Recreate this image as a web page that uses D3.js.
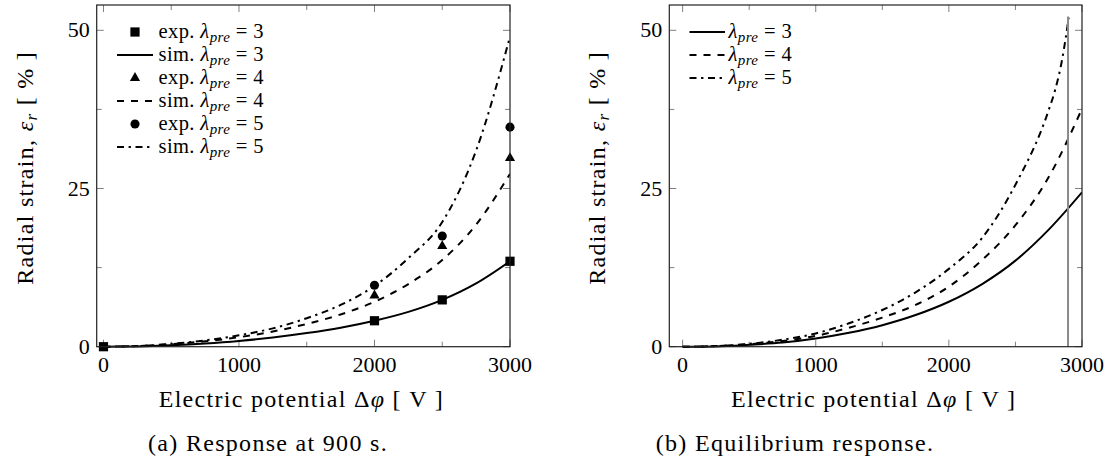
<!DOCTYPE html>
<html>
<head>
<meta charset="utf-8">
<script src="https://cdn.jsdelivr.net/npm/d3@7"></script>
</head>
<body style="margin:0">
<svg id="fig" width="1107" height="462"></svg>
<script>
// ---------------- data ----------------
const xMajorTicks = [0, 1000, 2000, 3000];
const xMinorTicks = [500, 1500, 2500];
const yMajorTicks = [0, 25, 50];
const yMinorTicks = [12.5, 37.5];

// (a) Response at 900 s — simulation curves
const phi900 = [0, 250, 500, 750, 1000, 1250, 1500, 1750, 2000, 2250, 2500, 2750, 3000];
const sim3_900 = [0, 0.05, 0.22, 0.5, 0.9, 1.45, 2.15, 3.0, 4.1, 5.5, 7.4, 10.0, 13.5];
const sim4_900 = [0, 0.1, 0.4, 0.85, 1.5, 2.4, 3.6, 5.1, 7.1, 9.9, 13.7, 19.3, 27.3];
const sim5_900 = [0, 0.1, 0.45, 1.0, 1.8, 2.9, 4.5, 6.6, 9.6, 14.0, 19.7, 31.0, 49.0];

// (a) experiments
const exp3Phi = [0, 2000, 2500, 3000];
const exp3Val = [0, 4.1, 7.4, 13.5];
const exp4Phi = [2000, 2500, 3000];
const exp4Val = [8.1, 15.9, 29.8];
const exp5Phi = [2000, 2500, 3000];
const exp5Val = [9.7, 17.5, 34.7];

// (b) Equilibrium response
const phiEq = [0, 250, 500, 750, 1000, 1250, 1500, 1750, 2000, 2250, 2500, 2750, 3000];
const eq3 = [0, 0.05, 0.3, 0.65, 1.3, 2.2, 3.4, 5.0, 7.1, 9.9, 13.6, 18.5, 24.4];
const eq4 = [0, 0.1, 0.4, 0.9, 1.7, 3.0, 4.6, 6.6, 9.5, 13.7, 19.2, 26.8, 37.6];
const phiEq5 = [0, 250, 500, 750, 1000, 1250, 1500, 1750, 2000, 2250, 2500, 2750, 2800, 2850, 2900];
const eq5 = [0, 0.1, 0.45, 1.1, 2.1, 3.7, 5.8, 8.6, 12.3, 17.2, 25.6, 37.4, 40.7, 45.3, 52.0];
const limitPhi = [2895];

const legendA = ["exp.", "sim.", "exp.", "sim.", "exp.", "sim."];
const legendLambda = [3, 3, 4, 4, 5, 5];
const legendB = [3, 4, 5];

const xLabel = "Electric potential ";
const yLabel = "Radial strain, ";
const captions = ["(a) Response at 900 s.", "(b) Equilibrium response."];

// ---------------- drawing ----------------
const FONT = "'Liberation Serif', Tinos, 'Times New Roman', FreeSerif, serif";
const svg = d3.select("#fig").style("display", "block");
const DASHED = "7,7";
const DASHDOT = "7,4.6,2.3,4.6";
const LABEL_FS = 24, LABEL_LS = 1.3;

function txt(sel) {
  return sel.append("text").attr("font-family", FONT)
    .style("font-family", FONT, "important").attr("fill", "#000");
}

function makePanel(cfg) {
  const g = svg.append("g");
  const x = d3.scaleLinear().domain(cfg.xDomain).range([cfg.left, cfg.right]);
  const y = d3.scaleLinear().domain([0, 54]).range([cfg.bottom, cfg.top]);
  const clipId = "clip" + cfg.id;
  svg.append("clipPath").attr("id", clipId).append("rect")
    .attr("x", cfg.left).attr("y", cfg.top - 4)
    .attr("width", cfg.right - cfg.left).attr("height", cfg.bottom - cfg.top + 8);

  // ticks on all four sides (inward)
  const tickCol = "#808080";
  const majL = 7, minL = 5;
  xMajorTicks.concat(xMinorTicks).forEach(t => {
    const L = xMajorTicks.includes(t) ? majL : minL;
    g.append("line").attr("x1", x(t)).attr("x2", x(t)).attr("y1", cfg.bottom).attr("y2", cfg.bottom - L)
      .attr("stroke", tickCol).attr("stroke-width", 1);
    g.append("line").attr("x1", x(t)).attr("x2", x(t)).attr("y1", cfg.top).attr("y2", cfg.top + L)
      .attr("stroke", tickCol).attr("stroke-width", 1);
  });
  yMajorTicks.concat(yMinorTicks).forEach(t => {
    const L = yMajorTicks.includes(t) ? majL : minL;
    g.append("line").attr("y1", y(t)).attr("y2", y(t)).attr("x1", cfg.left).attr("x2", cfg.left + L)
      .attr("stroke", tickCol).attr("stroke-width", 1);
    g.append("line").attr("y1", y(t)).attr("y2", y(t)).attr("x1", cfg.right).attr("x2", cfg.right - L)
      .attr("stroke", tickCol).attr("stroke-width", 1);
  });

  // tick labels
  xMajorTicks.forEach(t => {
    txt(g).attr("x", x(t)).attr("y", cfg.bottom + 25).attr("text-anchor", "middle")
      .attr("font-size", 22).text(t);
  });
  yMajorTicks.forEach(t => {
    txt(g).attr("x", cfg.left - 7).attr("y", y(t) + 7).attr("text-anchor", "end")
      .attr("font-size", 22).text(t);
  });

  // axis labels
  const xl = txt(g).attr("x", (cfg.left + cfg.right) / 2 - 2).attr("y", 407)
    .attr("text-anchor", "middle").attr("font-size", LABEL_FS).attr("letter-spacing", LABEL_LS);
  xl.append("tspan").text(xLabel + "Δ");
  xl.append("tspan").attr("font-style", "italic").text("φ");
  xl.append("tspan").text(" [ V ]");

  const yl = txt(g)
    .attr("transform", `translate(${cfg.left - 64},${(cfg.top + cfg.bottom) / 2 - 8}) rotate(-90)`)
    .attr("text-anchor", "middle").attr("font-size", LABEL_FS).attr("letter-spacing", LABEL_LS);
  yl.append("tspan").text(yLabel);
  yl.append("tspan").attr("font-style", "italic").text("ε");
  yl.append("tspan").attr("font-style", "italic").attr("font-size", 17).attr("dy", 4).text("r");
  yl.append("tspan").attr("dy", -4).text(" [ % ]");

  txt(g).attr("x", cfg.captionX).attr("y", 451).attr("text-anchor", "middle")
    .attr("font-size", LABEL_FS).attr("letter-spacing", LABEL_LS).text(captions[cfg.id]);

  const plot = g.append("g").attr("clip-path", `url(#${clipId})`);
  const line = d3.line().x(d => x(d[0])).y(d => y(d[1])).curve(d3.curveMonotoneX);
  return { g, x, y, plot, line };
}

function curve(p, xs, ys, dash) {
  p.plot.append("path").datum(xs.map((v, i) => [v, ys[i]]))
    .attr("d", p.line).attr("fill", "none").attr("stroke", "#000")
    .attr("stroke-width", 2).attr("stroke-dasharray", dash || null);
}

const sq = d3.symbol().type(d3.symbolSquare).size(85);
const tri = d3.symbol().type(d3.symbolTriangle).size(45);
const cir = d3.symbol().type(d3.symbolCircle).size(65);

function markers(p, xs, ys, sym) {
  p.g.selectAll(null).data(xs.map((v, i) => [v, ys[i]])).enter().append("path")
    .attr("d", sym).attr("transform", d => `translate(${p.x(d[0])},${p.y(d[1])})`)
    .attr("fill", "#000");
}

function lambdaText(sel, prefix, val) {
  if (prefix) sel.append("tspan").text(prefix + "  ");
  sel.append("tspan").attr("font-style", "italic").text("λ");
  sel.append("tspan").attr("font-style", "italic").attr("font-size", 15).attr("dy", 4).text("pre");
  sel.append("tspan").attr("dy", -4).text(" = " + val);
}

// Panel (a)
const A = makePanel({ id: 0, xDomain: [-50, 3000], left: 96.7, right: 510, top: 5, bottom: 346.7, captionX: 268 });
curve(A, phi900, sim3_900, null);
curve(A, phi900, sim4_900, DASHED);
curve(A, phi900, sim5_900, DASHDOT);
markers(A, exp3Phi, exp3Val, sq);
markers(A, exp4Phi, exp4Val, tri);
markers(A, exp5Phi, exp5Val, cir);

// legend (a)
const legARowY = d => 32 + d * 23;
legendA.forEach((lab, i) => {
  const yy = legARowY(i);
  if (lab === "exp.") {
    const sym = i === 0 ? sq : (i === 2 ? tri : cir);
    A.g.append("path").attr("d", sym).attr("transform", `translate(135,${yy})`).attr("fill", "#000");
  } else {
    const dash = i === 1 ? null : (i === 3 ? DASHED : DASHDOT);
    A.g.append("line").attr("x1", 117).attr("x2", 153).attr("y1", yy).attr("y2", yy)
      .attr("stroke", "#000").attr("stroke-width", 2).attr("stroke-dasharray", dash);
  }
  const t = txt(A.g).attr("x", 158.5).attr("y", yy + 6).attr("font-size", 20.5)
    .attr("letter-spacing", 0.4);
  lambdaText(t, lab, legendLambda[i]);
});

// Panel (b)
const B = makePanel({ id: 1, xDomain: [-100, 3000], left: 669.3, right: 1082, top: 5, bottom: 346.7, captionX: 795 });
B.g.append("line").attr("x1", B.x(limitPhi[0])).attr("x2", B.x(limitPhi[0]))
  .attr("y1", B.y(0)).attr("y2", B.y(52.2)).attr("stroke", "#8a8a8a").attr("stroke-width", 2);
curve(B, phiEq, eq3, null);
curve(B, phiEq, eq4, DASHED);
curve(B, phiEq5, eq5, DASHDOT);

legendB.forEach((v, i) => {
  const yy = 32 + i * 23;
  const dash = i === 0 ? null : (i === 1 ? DASHED : DASHDOT);
  B.g.append("line").attr("x1", 689.5).attr("x2", 725).attr("y1", yy).attr("y2", yy)
    .attr("stroke", "#000").attr("stroke-width", 2).attr("stroke-dasharray", dash);
  const t = txt(B.g).attr("x", 728.5).attr("y", yy + 6).attr("font-size", 20.5)
    .attr("letter-spacing", 0.4);
  lambdaText(t, null, v);
});

// frames on top
[A, B].forEach(p => {
  const r = p.x.range();
  p.g.append("rect").attr("x", r[0]).attr("y", 5).attr("width", r[1] - r[0]).attr("height", 346.7 - 5)
    .attr("fill", "none").attr("stroke", "#222").attr("stroke-width", 1.2);
});
</script>
</body>
</html>
